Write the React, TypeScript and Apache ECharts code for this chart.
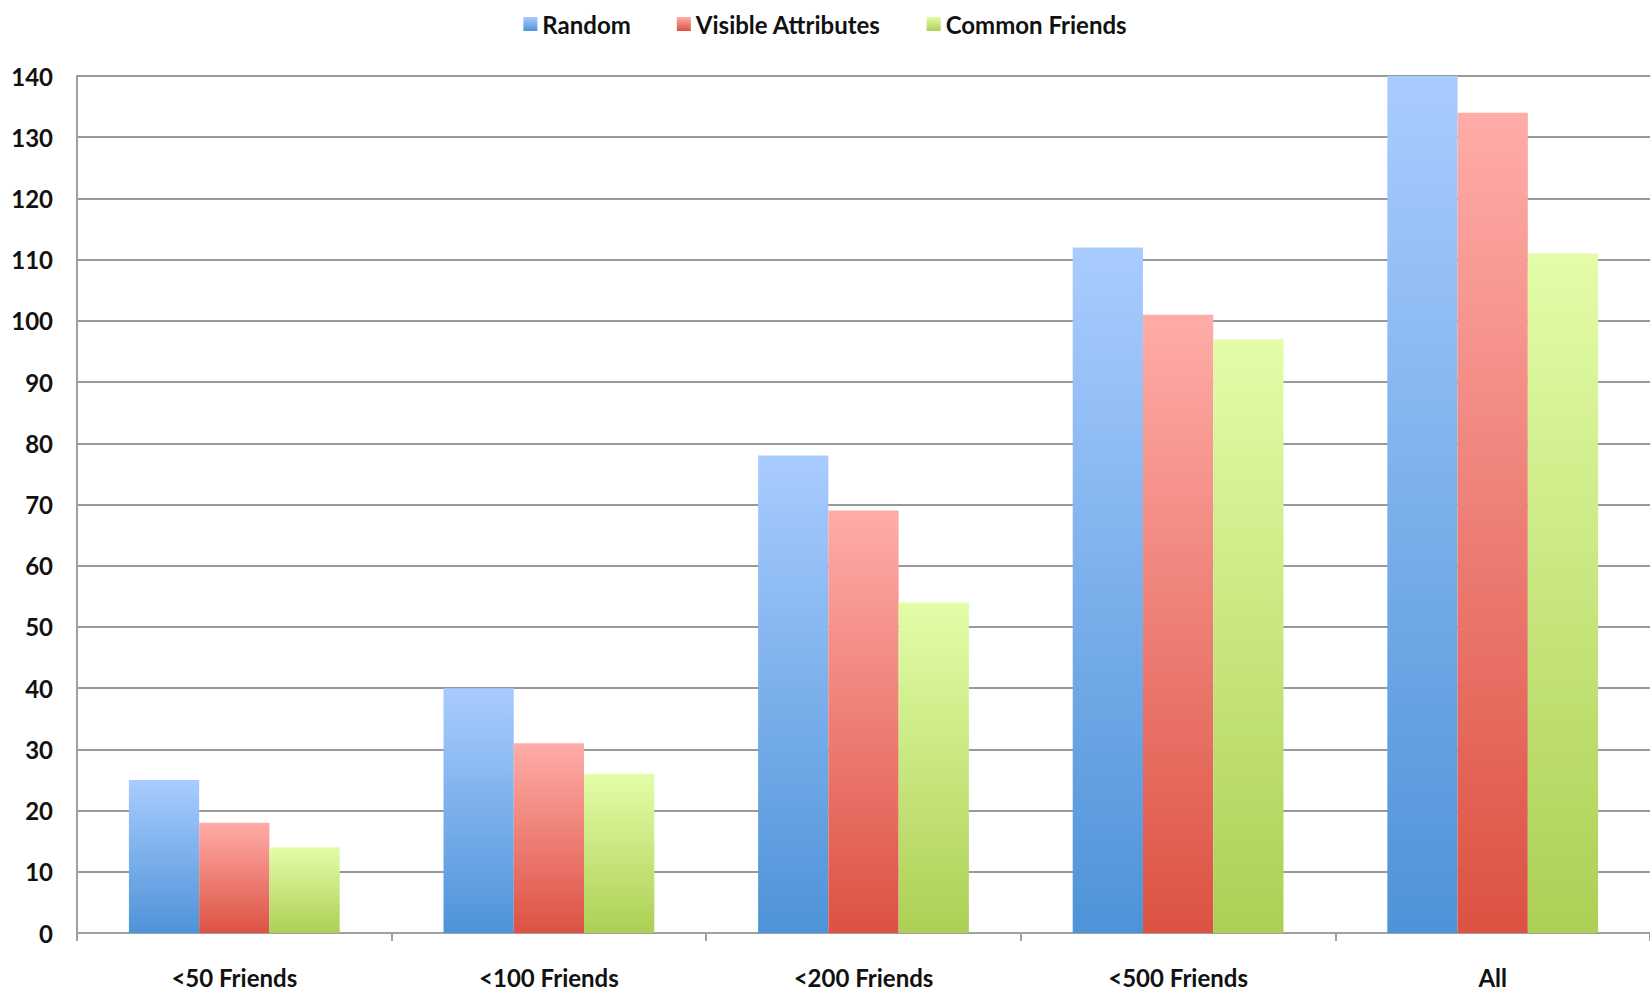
import React, { useEffect, useRef } from "react";
import * as echarts from "echarts";

const categories = ["<50 Friends", "<100 Friends", "<200 Friends", "<500 Friends", "All"];
const seriesNames = ["Random", "Visible Attributes", "Common Friends"];
const randomValues = [25, 40, 78, 112, 140];
const visibleValues = [18, 31, 69, 101, 134];
const commonValues = [14, 26, 54, 97, 111];
const yTicks = { min: 0, max: 140, interval: 10 };

const grad = (top: string, bottom: string) =>
  new echarts.graphic.LinearGradient(0, 0, 0, 1, [
    { offset: 0, color: top },
    { offset: 1, color: bottom },
  ]);

export default function App() {
  const ref = useRef<HTMLDivElement>(null);
  useEffect(() => {
    if (!ref.current) return;
    const chart = echarts.init(ref.current, undefined, { renderer: "svg" });
    const font = "Lato, 'Liberation Sans', sans-serif";
    const colors = [
      grad("#a9ccff", "#4e93d8"),
      grad("#ffaca8", "#dc5243"),
      grad("#e3fda8", "#acd055"),
    ];
    const data = [randomValues, visibleValues, commonValues];
    chart.setOption({
      animation: false,
      backgroundColor: "#ffffff",
      legend: {
        top: 7,
        left: "center",
        itemWidth: 14,
        itemHeight: 14,
        itemGap: 46,
        icon: "rect",
        textStyle: { fontFamily: font, fontWeight: "bold", fontSize: 24, color: "#111" },
        data: seriesNames,
      },
      grid: { left: 77, right: 0, top: 76, bottom: 62, containLabel: false },
      xAxis: {
        type: "category",
        data: categories,
        axisLine: { lineStyle: { color: "#a0a0a0", width: 2 } },
        axisTick: { show: true, length: 8, lineStyle: { color: "#a0a0a0", width: 2 } },
        axisLabel: {
          fontFamily: font,
          fontWeight: "bold",
          fontSize: 24,
          color: "#111",
          margin: 32,
        },
      },
      yAxis: {
        type: "value",
        min: yTicks.min,
        max: yTicks.max,
        interval: yTicks.interval,
        axisLine: { show: true, lineStyle: { color: "#a0a0a0", width: 2 } },
        axisTick: { show: false },
        splitLine: { lineStyle: { color: "#999999", width: 2 } },
        axisLabel: {
          fontFamily: font,
          fontWeight: "bold",
          fontSize: 24,
          color: "#111",
          margin: 24,
        },
      },
      series: seriesNames.map((name, i) => ({
        name,
        type: "bar",
        data: data[i],
        barGap: "0%",
        barCategoryGap: "33%",
        itemStyle: { color: colors[i] },
      })),
    });
    return () => chart.dispose();
  }, []);
  return <div ref={ref} style={{ width: 1650, height: 995, position: "absolute", left: 0, top: 0 }} />;
}
